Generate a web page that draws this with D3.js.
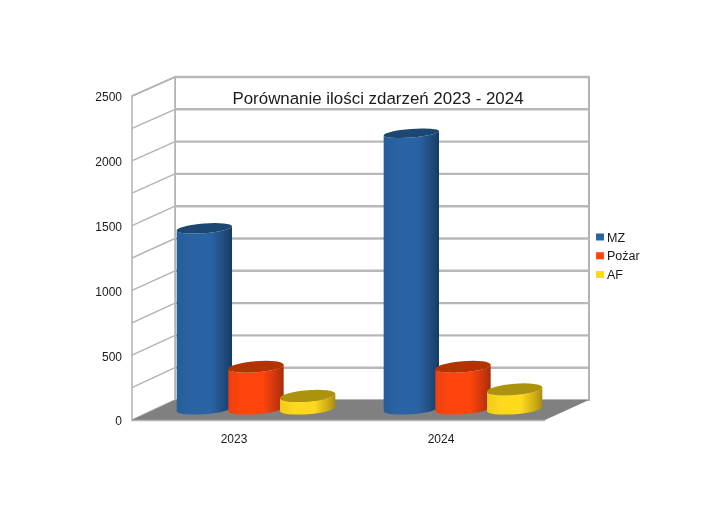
<!DOCTYPE html>
<html><head><meta charset="utf-8">
<script src="https://cdn.jsdelivr.net/npm/d3@7/dist/d3.min.js"></script>
<style>html,body{margin:0;padding:0;background:#fff}svg{display:block}text{font-family:"Liberation Sans",Arial,sans-serif;fill:#1a1a1a}</style>
</head><body><svg id="c" width="704" height="510"></svg>
<script>
const titleText = "Porównanie ilości zdarzeń 2023 - 2024";
const categories = ["2023", "2024"];
const seriesNames = ["MZ", "Pożar", "AF"];
const mz = [1400, 2135];
const pozar = [330, 330];
const af = [105, 155];
const seriesValues = [mz, pozar, af];
const colors = ["#2a64a4", "#ff4510", "#ffd91c"];
const sideDark = ["#173a63", "#a52c08", "#a88c10"];
const topColors = ["#1b4673", "#b23000", "#ad9210"];
const gridValues = d3.range(0, 2501, 250);
const tickValues = d3.range(0, 2501, 500);

const svg = d3.select("#c");
const W = 704, H = 510;
svg.append("rect").attr("width", W).attr("height", H).attr("fill", "#fff");

const defs = svg.append("defs");
const soft = (id, sd) => defs.append("filter").attr("id", id).attr("x", "-5%").attr("y", "-5%").attr("width", "110%").attr("height", "110%")
  .append("feGaussianBlur").attr("stdDeviation", sd);
soft("soft", 0.45);
soft("softText", 0.3);
colors.forEach((c, i) => {
  const g = defs.append("linearGradient").attr("id", "g" + i);
  [[0, d3.color(c).darker(0.18)], [0.28, c], [0.62, c], [0.85, d3.interpolateRgb(c, sideDark[i])(0.55)], [1, sideDark[i]]]
    .forEach(([o, col]) => g.append("stop").attr("offset", o).attr("stop-color", col));
});

const backY = d3.scaleLinear().domain([0, 2500]).range([400, 77]);
const frontY = d3.scaleLinear().domain([0, 2500]).range([420, 96]);
const midY = d3.scaleLinear().domain([0, 2500]).range([409.5, 86]);
const xBack = 175, xBackR = 589, xFront = 132, xFrontR = 545;

const g = svg.append("g").attr("filter", "url(#soft)");

// walls
g.append("rect").attr("x", xBack).attr("y", backY(2500)).attr("width", xBackR - xBack).attr("height", backY(0) - backY(2500))
  .attr("fill", "#fff").attr("stroke", "#b3b3b3").attr("stroke-width", 2);
g.append("path").attr("d", d3.line()([[xFront, frontY(2500)], [xBack, backY(2500)], [xBack, backY(0)], [xFront, frontY(0)]]) + "Z")
  .attr("fill", "#fff").attr("stroke", "#b3b3b3").attr("stroke-width", 1.5);

// floor
g.append("path").attr("d", d3.line()([[xFront, frontY(0)], [xBack, backY(0)], [xBackR, backY(0)], [xFrontR, frontY(0)]]) + "Z")
  .attr("fill", "#808080");
g.append("line").attr("x1", xFront).attr("x2", xFrontR).attr("y1", frontY(0)+0.5).attr("y2", frontY(0)+0.5)
  .attr("stroke", "#b3b3b3").attr("stroke-width", 1.5);

// grid
g.selectAll(".gb").data(gridValues.slice(1)).join("line")
  .attr("x1", xBack).attr("x2", xBackR).attr("y1", d => backY(d)).attr("y2", d => backY(d))
  .attr("stroke", "#b8b8b8").attr("stroke-width", 2.4);
g.selectAll(".gl").data(gridValues.slice(1)).join("line")
  .attr("x1", xFront).attr("x2", xBack).attr("y1", d => frontY(d)).attr("y2", d => backY(d))
  .attr("stroke", "#b3b3b3").attr("stroke-width", 1.4);

// bars
const x0 = d3.scaleBand().domain(categories).range([152.5, 566.5]);
const x1 = d3.scaleBand().domain(seriesNames).range([26, 181]);
const barW = 55.5;
const tilt = -4.5 * Math.PI / 180;
const ryFor = v => 5.8 - 1.5 * v / 2120;
categories.forEach((cat, ci) => {
  seriesNames.forEach((s, si) => {
    const v = seriesValues[si][ci];
    const cx = x0(cat) + x1(s) + x1.bandwidth() / 2;
    const rx = barW / 2;
    const dx = rx * Math.cos(tilt), dy = rx * Math.sin(tilt);
    const yt = midY(v), yb = midY(0) - 0.5;
    const rt = ryFor(v), rb = 5.2;
    const deg = tilt * 180 / Math.PI;
    const body = `M${cx - dx},${yt - dy}L${cx - dx},${yb - dy}A${rx},${rb} ${deg} 0 0 ${cx + dx},${yb + dy}L${cx + dx},${yt + dy}A${rx},${rt} ${deg} 0 1 ${cx - dx},${yt - dy}Z`;
    g.append("path").attr("d", body).attr("fill", `url(#g${si})`);
    g.append("ellipse").attr("rx", rx).attr("ry", rt)
      .attr("transform", `translate(${cx},${yt}) rotate(${deg})`).attr("fill", topColors[si]);
  });
});

const t = svg.append("g").attr("filter", "url(#softText)");

// axis labels
const axis = d3.axisLeft(frontY).tickValues(tickValues).tickSize(0).tickPadding(0).tickFormat(d3.format("d"));
const ax = t.append("g").attr("transform", "translate(122,1)").call(axis);
ax.select(".domain").remove();
ax.selectAll("text").attr("font-size", 12).style("font-family", '"Liberation Sans",Arial,sans-serif').attr("fill", "#1a1a1a");

t.selectAll(".cat").data(categories).join("text")
  .attr("x", d => x0(d) + x0.bandwidth() / 2 - 22).attr("y", 443).attr("text-anchor", "middle").attr("font-size", 12).text(d => d);

t.append("text").attr("x", 378).attr("y", 104).attr("text-anchor", "middle").attr("font-size", 16.9).text(titleText);

const legY = d3.scalePoint().domain(seriesNames).range([237, 274.5]);
seriesNames.forEach((s, i) => {
  t.append("rect").attr("x", 596).attr("y", legY(s) - 3.5).attr("width", 8).attr("height", 7).attr("fill", colors[i]);
  t.append("text").attr("x", 607).attr("y", legY(s) + 4.5).attr("font-size", 12.5).text(s);
});
</script></body></html>
